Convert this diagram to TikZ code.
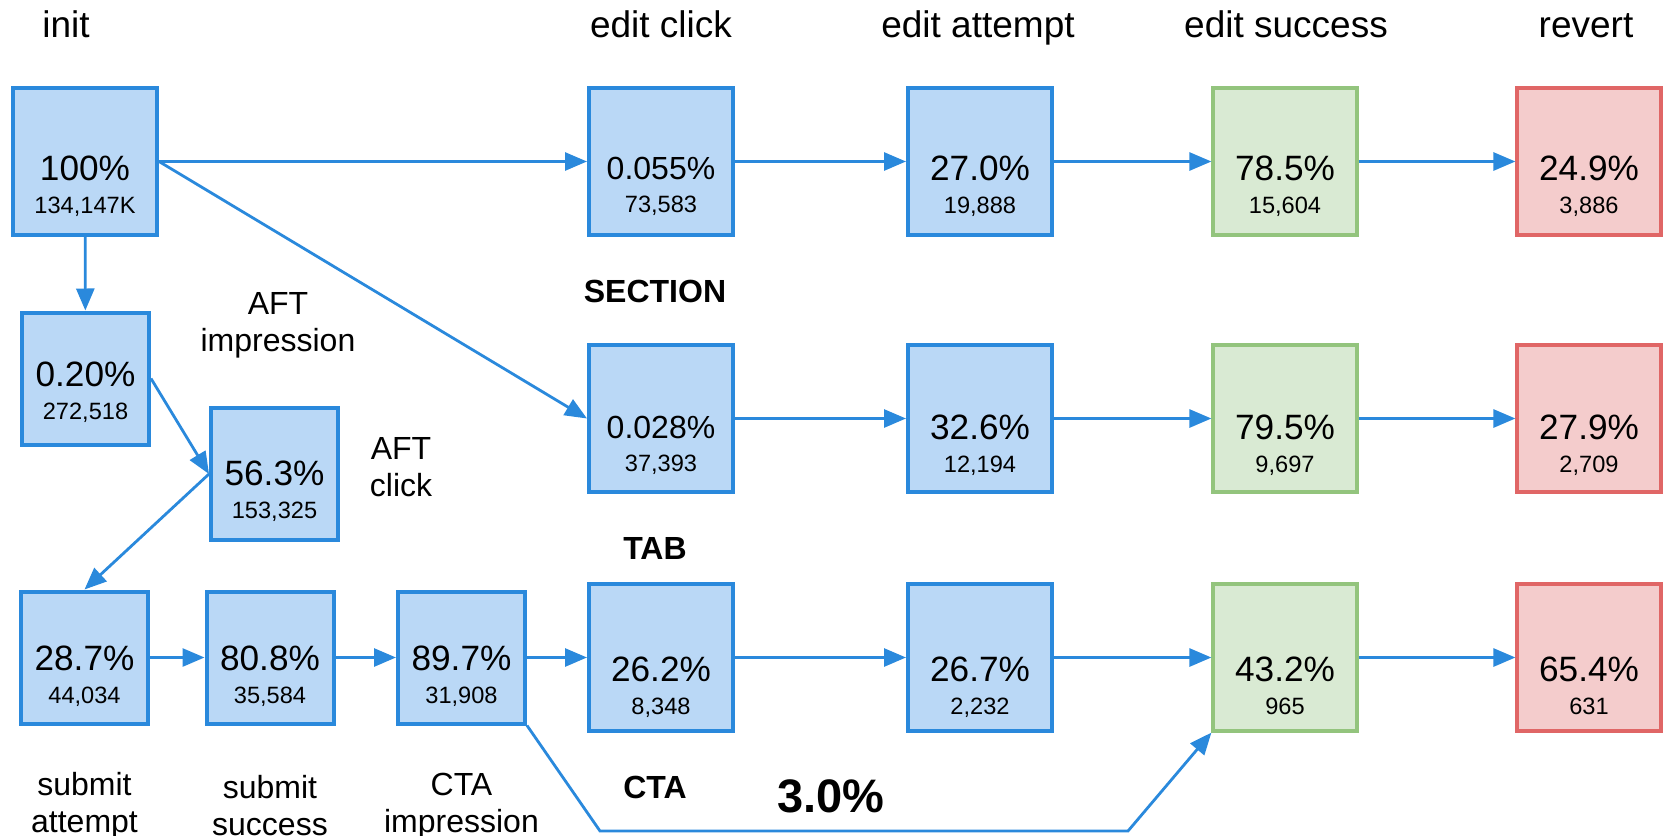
\documentclass[tikz,border=0pt]{standalone}
\usepackage{fontspec}
\setmainfont{Liberation Sans}
\usetikzlibrary{arrows.meta}

\definecolor{flowblue}{HTML}{2A89DC}
\definecolor{boxblue}{HTML}{BAD8F6}
\definecolor{okgreen}{HTML}{93C47D}
\definecolor{okfill}{HTML}{D9EAD3}
\definecolor{revred}{HTML}{E06666}
\definecolor{revfill}{HTML}{F4CCCC}

\newcommand{\stat}[3][30pt]{\raisebox{0pt}[\dimexpr\height+#1\relax][\depth]{\begin{tabular}{@{}c@{}}\fontsize{17.6pt}{16.5pt}\selectfont #2\\\fontsize{11.8pt}{16.5pt}\selectfont #3\end{tabular}}}
\newcommand{\longpct}[1]{\fontsize{16pt}{16.5pt}\selectfont #1}

\begin{document}
\begin{tikzpicture}[x=0.5pt, y=-0.5pt, >={Triangle[length=11pt,width=9pt]},
        box/.style={draw=flowblue, fill=boxblue, line width=2pt, inner sep=0pt, font=\fontsize{11.8pt}{16.5pt}\selectfont},
        bigbox/.style={box, minimum width=72pt, minimum height=73.5pt},
        smallbox/.style={box, minimum width=63.5pt, minimum height=66pt},
        okbox/.style={bigbox, draw=okgreen, fill=okfill, line width=1.6pt},
        revbox/.style={bigbox, draw=revred, fill=revfill, line width=1.6pt},
        flow/.style={->, draw=flowblue, line width=1.4pt},
        stage/.style={anchor=base, font=\fontsize{18.5pt}{22pt}\selectfont},
        side/.style={align=center, font=\fontsize{16pt}{18.5pt}\selectfont},
        tag/.style={font=\bfseries\fontsize{16pt}{18pt}\selectfont}]
        \useasboundingbox (0,0) rectangle (1664,835);

        \node[stage] (lblinit) at (66,37) {init};
        \node[stage] (lblclick) at (661,37) {edit click};
        \node[stage] (lblatt) at (978,37) {edit attempt};
        \node[stage] (lblok) at (1286,37) {edit success};
        \node[stage] (lblrev) at (1586,37) {revert};

        \node[bigbox] (init) at (85,161.5) {\stat[28pt]{100\%}{134,147K}};
        \node[bigbox] (topclick) at (661,161.5) {\stat[28pt]{\longpct{0.055\%}}{73,583}};
        \node[bigbox] (topatt) at (980,161.5) {\stat[28pt]{27.0\%}{19,888}};
        \node[okbox] (topok) at (1285,161.5) {\stat[28pt]{78.5\%}{15,604}};
        \node[revbox] (toprev) at (1589,161.5) {\stat[28pt]{24.9\%}{3,886}};

        \node[bigbox] (secclick) at (661,418.5) {\stat{\longpct{0.028\%}}{37,393}};
        \node[bigbox] (secatt) at (980,418.5) {\stat{32.6\%}{12,194}};
        \node[okbox] (secok) at (1285,418.5) {\stat{79.5\%}{9,697}};
        \node[revbox] (secrev) at (1589,418.5) {\stat{27.9\%}{2,709}};

        \node[bigbox] (tabclick) at (661,657.5) {\stat[33pt]{26.2\%}{8,348}};
        \node[bigbox] (tabatt) at (980,657.5) {\stat[33pt]{26.7\%}{2,232}};
        \node[okbox] (tabok) at (1285,657.5) {\stat[33pt]{43.2\%}{965}};
        \node[revbox] (tabrev) at (1589,657.5) {\stat[33pt]{65.4\%}{631}};

        \node[smallbox] (aftimp) at (85.5,378.5) {\stat[17pt]{0.20\%}{272,518}};
        \node[smallbox] (aftclk) at (274.5,474) {\stat[21pt]{56.3\%}{153,325}};
        \node[smallbox] (subatt) at (84.5,657.5) {\stat[22pt]{28.7\%}{44,034}};
        \node[smallbox] (subok) at (270,657.5) {\stat[22pt]{80.8\%}{35,584}};
        \node[smallbox] (ctaimp) at (461.5,657.5) {\stat[22pt]{89.7\%}{31,908}};

        \node[side] (lblaftimp) at (278,325) {AFT\\impression};
        \node[side] (lblaftclk) at (401,467) {AFT\\click};
        \node[side] (lblsubatt) at (84.5,806) {submit\\attempt};
        \node[side] (lblsubok) at (270,806) {submit\\success};
        \node[side] (lblctaimp) at (461.5,806) {CTA\\impression};

        \node[tag] (lblsection) at (655,291) {SECTION};
        \node[tag] (lbltab) at (655,548) {TAB};
        \node[tag] (lblcta) at (655,787) {CTA};
        \node[font=\bfseries\fontsize{23.5pt}{26pt}\selectfont] (lblrate) at (831,796) {3.0\%};

        \coordinate (ctadown) at (600,831);
        \coordinate (ctaup) at (1128,831);

        \draw[flow] (init) -- (topclick);
        \draw[flow] (topclick) -- (topatt);
        \draw[flow] (topatt) -- (topok);
        \draw[flow] (topok) -- (toprev);
        \draw[flow] (init.east) -- (secclick.west);
        \draw[flow] (secclick) -- (secatt);
        \draw[flow] (secatt) -- (secok);
        \draw[flow] (secok) -- (secrev);
        \draw[flow] (init) -- (aftimp);
        \draw[flow] (aftimp.east) -- (aftclk.west);
        \draw[flow] (aftclk.west) -- (subatt.north);
        \draw[flow] (subatt) -- (subok);
        \draw[flow] (subok) -- (ctaimp);
        \draw[flow] (ctaimp) -- (tabclick);
        \draw[flow] (tabclick) -- (tabatt);
        \draw[flow] (tabatt) -- (tabok);
        \draw[flow] (tabok) -- (tabrev);
        \draw[flow] (ctaimp.south east) -- (ctadown) -- (ctaup) -- (tabok.south west);
    \end{tikzpicture}
\end{document}
